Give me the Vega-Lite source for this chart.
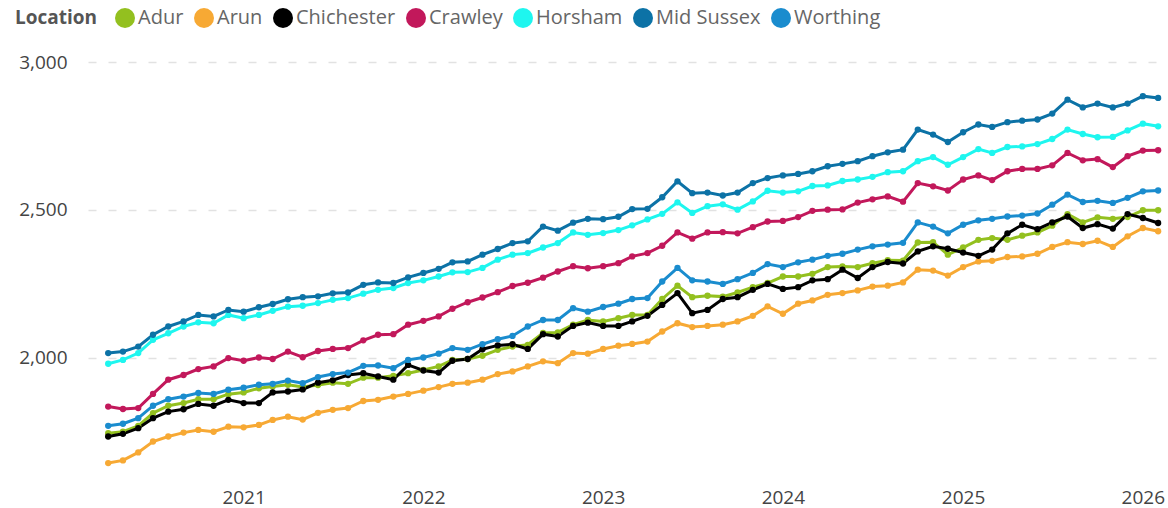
{
"$schema": "https://vega.github.io/schema/vega-lite/v6.json",
"autosize": "none",
"width": 1078,
"height": 437,
"padding": {"left": 88, "top": 45, "right": 2, "bottom": 26},
"config": {"view": {"stroke": null}, "font": "Open Sans", "background": "white"},
"data": {"values": [
{"month":"2020-04","Location":"Adur","value":1745},{"month":"2020-05","Location":"Adur","value":1750},{"month":"2020-06","Location":"Adur","value":1770},{"month":"2020-07","Location":"Adur","value":1813},{"month":"2020-08","Location":"Adur","value":1838},{"month":"2020-09","Location":"Adur","value":1847},{"month":"2020-10","Location":"Adur","value":1860},{"month":"2020-11","Location":"Adur","value":1860},{"month":"2020-12","Location":"Adur","value":1877},
{"month":"2021-01","Location":"Adur","value":1883},{"month":"2021-02","Location":"Adur","value":1897},{"month":"2021-03","Location":"Adur","value":1903},{"month":"2021-04","Location":"Adur","value":1909},{"month":"2021-05","Location":"Adur","value":1901},{"month":"2021-06","Location":"Adur","value":1908},{"month":"2021-07","Location":"Adur","value":1916},{"month":"2021-08","Location":"Adur","value":1912},{"month":"2021-09","Location":"Adur","value":1933},{"month":"2021-10","Location":"Adur","value":1933},{"month":"2021-11","Location":"Adur","value":1939},{"month":"2021-12","Location":"Adur","value":1948},
{"month":"2022-01","Location":"Adur","value":1959},{"month":"2022-02","Location":"Adur","value":1971},{"month":"2022-03","Location":"Adur","value":1993},{"month":"2022-04","Location":"Adur","value":1996},{"month":"2022-05","Location":"Adur","value":2007},{"month":"2022-06","Location":"Adur","value":2027},{"month":"2022-07","Location":"Adur","value":2038},{"month":"2022-08","Location":"Adur","value":2044},{"month":"2022-09","Location":"Adur","value":2084},{"month":"2022-10","Location":"Adur","value":2086},{"month":"2022-11","Location":"Adur","value":2112},{"month":"2022-12","Location":"Adur","value":2128},
{"month":"2023-01","Location":"Adur","value":2123},{"month":"2023-02","Location":"Adur","value":2134},{"month":"2023-03","Location":"Adur","value":2145},{"month":"2023-04","Location":"Adur","value":2145},{"month":"2023-05","Location":"Adur","value":2199},{"month":"2023-06","Location":"Adur","value":2244},{"month":"2023-07","Location":"Adur","value":2205},{"month":"2023-08","Location":"Adur","value":2210},{"month":"2023-09","Location":"Adur","value":2207},{"month":"2023-10","Location":"Adur","value":2221},{"month":"2023-11","Location":"Adur","value":2239},{"month":"2023-12","Location":"Adur","value":2253},
{"month":"2024-01","Location":"Adur","value":2275},{"month":"2024-02","Location":"Adur","value":2275},{"month":"2024-03","Location":"Adur","value":2284},{"month":"2024-04","Location":"Adur","value":2307},{"month":"2024-05","Location":"Adur","value":2309},{"month":"2024-06","Location":"Adur","value":2307},{"month":"2024-07","Location":"Adur","value":2320},{"month":"2024-08","Location":"Adur","value":2330},{"month":"2024-09","Location":"Adur","value":2329},{"month":"2024-10","Location":"Adur","value":2390},{"month":"2024-11","Location":"Adur","value":2391},{"month":"2024-12","Location":"Adur","value":2349},
{"month":"2025-01","Location":"Adur","value":2373},{"month":"2025-02","Location":"Adur","value":2399},{"month":"2025-03","Location":"Adur","value":2405},{"month":"2025-04","Location":"Adur","value":2399},{"month":"2025-05","Location":"Adur","value":2413},{"month":"2025-06","Location":"Adur","value":2424},{"month":"2025-07","Location":"Adur","value":2447},{"month":"2025-08","Location":"Adur","value":2486},{"month":"2025-09","Location":"Adur","value":2458},{"month":"2025-10","Location":"Adur","value":2475},{"month":"2025-11","Location":"Adur","value":2470},{"month":"2025-12","Location":"Adur","value":2476},
{"month":"2026-01","Location":"Adur","value":2499},{"month":"2026-02","Location":"Adur","value":2499},

{"month":"2020-04","Location":"Arun","value":1644},{"month":"2020-05","Location":"Arun","value":1653},{"month":"2020-06","Location":"Arun","value":1680},{"month":"2020-07","Location":"Arun","value":1717},{"month":"2020-08","Location":"Arun","value":1734},{"month":"2020-09","Location":"Arun","value":1747},{"month":"2020-10","Location":"Arun","value":1756},{"month":"2020-11","Location":"Arun","value":1750},{"month":"2020-12","Location":"Arun","value":1767},
{"month":"2021-01","Location":"Arun","value":1765},{"month":"2021-02","Location":"Arun","value":1773},{"month":"2021-03","Location":"Arun","value":1790},{"month":"2021-04","Location":"Arun","value":1801},{"month":"2021-05","Location":"Arun","value":1791},{"month":"2021-06","Location":"Arun","value":1814},{"month":"2021-07","Location":"Arun","value":1824},{"month":"2021-08","Location":"Arun","value":1830},{"month":"2021-09","Location":"Arun","value":1854},{"month":"2021-10","Location":"Arun","value":1858},{"month":"2021-11","Location":"Arun","value":1869},{"month":"2021-12","Location":"Arun","value":1878},
{"month":"2022-01","Location":"Arun","value":1889},{"month":"2022-02","Location":"Arun","value":1901},{"month":"2022-03","Location":"Arun","value":1912},{"month":"2022-04","Location":"Arun","value":1916},{"month":"2022-05","Location":"Arun","value":1926},{"month":"2022-06","Location":"Arun","value":1945},{"month":"2022-07","Location":"Arun","value":1954},{"month":"2022-08","Location":"Arun","value":1971},{"month":"2022-09","Location":"Arun","value":1988},{"month":"2022-10","Location":"Arun","value":1982},{"month":"2022-11","Location":"Arun","value":2016},{"month":"2022-12","Location":"Arun","value":2014},
{"month":"2023-01","Location":"Arun","value":2030},{"month":"2023-02","Location":"Arun","value":2041},{"month":"2023-03","Location":"Arun","value":2047},{"month":"2023-04","Location":"Arun","value":2055},{"month":"2023-05","Location":"Arun","value":2089},{"month":"2023-06","Location":"Arun","value":2117},{"month":"2023-07","Location":"Arun","value":2104},{"month":"2023-08","Location":"Arun","value":2108},{"month":"2023-09","Location":"Arun","value":2112},{"month":"2023-10","Location":"Arun","value":2123},{"month":"2023-11","Location":"Arun","value":2142},{"month":"2023-12","Location":"Arun","value":2174},
{"month":"2024-01","Location":"Arun","value":2149},{"month":"2024-02","Location":"Arun","value":2183},{"month":"2024-03","Location":"Arun","value":2194},{"month":"2024-04","Location":"Arun","value":2213},{"month":"2024-05","Location":"Arun","value":2219},{"month":"2024-06","Location":"Arun","value":2228},{"month":"2024-07","Location":"Arun","value":2241},{"month":"2024-08","Location":"Arun","value":2244},{"month":"2024-09","Location":"Arun","value":2255},{"month":"2024-10","Location":"Arun","value":2298},{"month":"2024-11","Location":"Arun","value":2295},{"month":"2024-12","Location":"Arun","value":2278},
{"month":"2025-01","Location":"Arun","value":2307},{"month":"2025-02","Location":"Arun","value":2326},{"month":"2025-03","Location":"Arun","value":2328},{"month":"2025-04","Location":"Arun","value":2341},{"month":"2025-05","Location":"Arun","value":2343},{"month":"2025-06","Location":"Arun","value":2352},{"month":"2025-07","Location":"Arun","value":2375},{"month":"2025-08","Location":"Arun","value":2391},{"month":"2025-09","Location":"Arun","value":2385},{"month":"2025-10","Location":"Arun","value":2396},{"month":"2025-11","Location":"Arun","value":2375},{"month":"2025-12","Location":"Arun","value":2411},
{"month":"2026-01","Location":"Arun","value":2439},{"month":"2026-02","Location":"Arun","value":2428},

{"month":"2020-04","Location":"Chichester","value":1734},{"month":"2020-05","Location":"Chichester","value":1743},{"month":"2020-06","Location":"Chichester","value":1762},{"month":"2020-07","Location":"Chichester","value":1796},{"month":"2020-08","Location":"Chichester","value":1818},{"month":"2020-09","Location":"Chichester","value":1826},{"month":"2020-10","Location":"Chichester","value":1844},{"month":"2020-11","Location":"Chichester","value":1838},{"month":"2020-12","Location":"Chichester","value":1858},
{"month":"2021-01","Location":"Chichester","value":1847},{"month":"2021-02","Location":"Chichester","value":1847},{"month":"2021-03","Location":"Chichester","value":1883},{"month":"2021-04","Location":"Chichester","value":1886},{"month":"2021-05","Location":"Chichester","value":1893},{"month":"2021-06","Location":"Chichester","value":1916},{"month":"2021-07","Location":"Chichester","value":1924},{"month":"2021-08","Location":"Chichester","value":1942},{"month":"2021-09","Location":"Chichester","value":1948},{"month":"2021-10","Location":"Chichester","value":1937},{"month":"2021-11","Location":"Chichester","value":1926},{"month":"2021-12","Location":"Chichester","value":1976},
{"month":"2022-01","Location":"Chichester","value":1957},{"month":"2022-02","Location":"Chichester","value":1950},{"month":"2022-03","Location":"Chichester","value":1990},{"month":"2022-04","Location":"Chichester","value":1996},{"month":"2022-05","Location":"Chichester","value":2029},{"month":"2022-06","Location":"Chichester","value":2042},{"month":"2022-07","Location":"Chichester","value":2046},{"month":"2022-08","Location":"Chichester","value":2030},{"month":"2022-09","Location":"Chichester","value":2080},{"month":"2022-10","Location":"Chichester","value":2072},{"month":"2022-11","Location":"Chichester","value":2108},{"month":"2022-12","Location":"Chichester","value":2119},
{"month":"2023-01","Location":"Chichester","value":2108},{"month":"2023-02","Location":"Chichester","value":2108},{"month":"2023-03","Location":"Chichester","value":2123},{"month":"2023-04","Location":"Chichester","value":2142},{"month":"2023-05","Location":"Chichester","value":2179},{"month":"2023-06","Location":"Chichester","value":2219},{"month":"2023-07","Location":"Chichester","value":2151},{"month":"2023-08","Location":"Chichester","value":2162},{"month":"2023-09","Location":"Chichester","value":2199},{"month":"2023-10","Location":"Chichester","value":2205},{"month":"2023-11","Location":"Chichester","value":2230},{"month":"2023-12","Location":"Chichester","value":2250},
{"month":"2024-01","Location":"Chichester","value":2233},{"month":"2024-02","Location":"Chichester","value":2239},{"month":"2024-03","Location":"Chichester","value":2262},{"month":"2024-04","Location":"Chichester","value":2266},{"month":"2024-05","Location":"Chichester","value":2298},{"month":"2024-06","Location":"Chichester","value":2270},{"month":"2024-07","Location":"Chichester","value":2307},{"month":"2024-08","Location":"Chichester","value":2324},{"month":"2024-09","Location":"Chichester","value":2319},{"month":"2024-10","Location":"Chichester","value":2360},{"month":"2024-11","Location":"Chichester","value":2377},{"month":"2024-12","Location":"Chichester","value":2369},
{"month":"2025-01","Location":"Chichester","value":2356},{"month":"2025-02","Location":"Chichester","value":2345},{"month":"2025-03","Location":"Chichester","value":2366},{"month":"2025-04","Location":"Chichester","value":2421},{"month":"2025-05","Location":"Chichester","value":2450},{"month":"2025-06","Location":"Chichester","value":2435},{"month":"2025-07","Location":"Chichester","value":2458},{"month":"2025-08","Location":"Chichester","value":2478},{"month":"2025-09","Location":"Chichester","value":2439},{"month":"2025-10","Location":"Chichester","value":2452},{"month":"2025-11","Location":"Chichester","value":2437},{"month":"2025-12","Location":"Chichester","value":2486},
{"month":"2026-01","Location":"Chichester","value":2473},{"month":"2026-02","Location":"Chichester","value":2456},

{"month":"2020-04","Location":"Crawley","value":1835},{"month":"2020-05","Location":"Crawley","value":1827},{"month":"2020-06","Location":"Crawley","value":1830},{"month":"2020-07","Location":"Crawley","value":1878},{"month":"2020-08","Location":"Crawley","value":1926},{"month":"2020-09","Location":"Crawley","value":1942},{"month":"2020-10","Location":"Crawley","value":1962},{"month":"2020-11","Location":"Crawley","value":1971},{"month":"2020-12","Location":"Crawley","value":1999},
{"month":"2021-01","Location":"Crawley","value":1990},{"month":"2021-02","Location":"Crawley","value":2001},{"month":"2021-03","Location":"Crawley","value":1996},{"month":"2021-04","Location":"Crawley","value":2021},{"month":"2021-05","Location":"Crawley","value":2002},{"month":"2021-06","Location":"Crawley","value":2023},{"month":"2021-07","Location":"Crawley","value":2030},{"month":"2021-08","Location":"Crawley","value":2033},{"month":"2021-09","Location":"Crawley","value":2059},{"month":"2021-10","Location":"Crawley","value":2078},{"month":"2021-11","Location":"Crawley","value":2080},{"month":"2021-12","Location":"Crawley","value":2112},
{"month":"2022-01","Location":"Crawley","value":2125},{"month":"2022-02","Location":"Crawley","value":2140},{"month":"2022-03","Location":"Crawley","value":2166},{"month":"2022-04","Location":"Crawley","value":2188},{"month":"2022-05","Location":"Crawley","value":2204},{"month":"2022-06","Location":"Crawley","value":2222},{"month":"2022-07","Location":"Crawley","value":2243},{"month":"2022-08","Location":"Crawley","value":2254},{"month":"2022-09","Location":"Crawley","value":2271},{"month":"2022-10","Location":"Crawley","value":2292},{"month":"2022-11","Location":"Crawley","value":2310},{"month":"2022-12","Location":"Crawley","value":2303},
{"month":"2023-01","Location":"Crawley","value":2310},{"month":"2023-02","Location":"Crawley","value":2320},{"month":"2023-03","Location":"Crawley","value":2343},{"month":"2023-04","Location":"Crawley","value":2354},{"month":"2023-05","Location":"Crawley","value":2379},{"month":"2023-06","Location":"Crawley","value":2424},{"month":"2023-07","Location":"Crawley","value":2403},{"month":"2023-08","Location":"Crawley","value":2424},{"month":"2023-09","Location":"Crawley","value":2425},{"month":"2023-10","Location":"Crawley","value":2421},{"month":"2023-11","Location":"Crawley","value":2442},{"month":"2023-12","Location":"Crawley","value":2461},
{"month":"2024-01","Location":"Crawley","value":2463},{"month":"2024-02","Location":"Crawley","value":2476},{"month":"2024-03","Location":"Crawley","value":2497},{"month":"2024-04","Location":"Crawley","value":2501},{"month":"2024-05","Location":"Crawley","value":2502},{"month":"2024-06","Location":"Crawley","value":2525},{"month":"2024-07","Location":"Crawley","value":2536},{"month":"2024-08","Location":"Crawley","value":2546},{"month":"2024-09","Location":"Crawley","value":2528},{"month":"2024-10","Location":"Crawley","value":2591},{"month":"2024-11","Location":"Crawley","value":2580},{"month":"2024-12","Location":"Crawley","value":2566},
{"month":"2025-01","Location":"Crawley","value":2603},{"month":"2025-02","Location":"Crawley","value":2617},{"month":"2025-03","Location":"Crawley","value":2601},{"month":"2025-04","Location":"Crawley","value":2631},{"month":"2025-05","Location":"Crawley","value":2639},{"month":"2025-06","Location":"Crawley","value":2639},{"month":"2025-07","Location":"Crawley","value":2651},{"month":"2025-08","Location":"Crawley","value":2693},{"month":"2025-09","Location":"Crawley","value":2668},{"month":"2025-10","Location":"Crawley","value":2672},{"month":"2025-11","Location":"Crawley","value":2645},{"month":"2025-12","Location":"Crawley","value":2682},
{"month":"2026-01","Location":"Crawley","value":2701},{"month":"2026-02","Location":"Crawley","value":2702},

{"month":"2020-04","Location":"Horsham","value":1980},{"month":"2020-05","Location":"Horsham","value":1993},{"month":"2020-06","Location":"Horsham","value":2016},{"month":"2020-07","Location":"Horsham","value":2061},{"month":"2020-08","Location":"Horsham","value":2083},{"month":"2020-09","Location":"Horsham","value":2106},{"month":"2020-10","Location":"Horsham","value":2120},{"month":"2020-11","Location":"Horsham","value":2117},{"month":"2020-12","Location":"Horsham","value":2145},
{"month":"2021-01","Location":"Horsham","value":2134},{"month":"2021-02","Location":"Horsham","value":2145},{"month":"2021-03","Location":"Horsham","value":2159},{"month":"2021-04","Location":"Horsham","value":2173},{"month":"2021-05","Location":"Horsham","value":2176},{"month":"2021-06","Location":"Horsham","value":2185},{"month":"2021-07","Location":"Horsham","value":2196},{"month":"2021-08","Location":"Horsham","value":2202},{"month":"2021-09","Location":"Horsham","value":2217},{"month":"2021-10","Location":"Horsham","value":2230},{"month":"2021-11","Location":"Horsham","value":2236},{"month":"2021-12","Location":"Horsham","value":2253},
{"month":"2022-01","Location":"Horsham","value":2262},{"month":"2022-02","Location":"Horsham","value":2275},{"month":"2022-03","Location":"Horsham","value":2289},{"month":"2022-04","Location":"Horsham","value":2290},{"month":"2022-05","Location":"Horsham","value":2304},{"month":"2022-06","Location":"Horsham","value":2332},{"month":"2022-07","Location":"Horsham","value":2349},{"month":"2022-08","Location":"Horsham","value":2354},{"month":"2022-09","Location":"Horsham","value":2373},{"month":"2022-10","Location":"Horsham","value":2388},{"month":"2022-11","Location":"Horsham","value":2424},{"month":"2022-12","Location":"Horsham","value":2416},
{"month":"2023-01","Location":"Horsham","value":2422},{"month":"2023-02","Location":"Horsham","value":2432},{"month":"2023-03","Location":"Horsham","value":2448},{"month":"2023-04","Location":"Horsham","value":2468},{"month":"2023-05","Location":"Horsham","value":2487},{"month":"2023-06","Location":"Horsham","value":2526},{"month":"2023-07","Location":"Horsham","value":2490},{"month":"2023-08","Location":"Horsham","value":2513},{"month":"2023-09","Location":"Horsham","value":2519},{"month":"2023-10","Location":"Horsham","value":2501},{"month":"2023-11","Location":"Horsham","value":2529},{"month":"2023-12","Location":"Horsham","value":2565},
{"month":"2024-01","Location":"Horsham","value":2559},{"month":"2024-02","Location":"Horsham","value":2563},{"month":"2024-03","Location":"Horsham","value":2581},{"month":"2024-04","Location":"Horsham","value":2583},{"month":"2024-05","Location":"Horsham","value":2598},{"month":"2024-06","Location":"Horsham","value":2603},{"month":"2024-07","Location":"Horsham","value":2612},{"month":"2024-08","Location":"Horsham","value":2628},{"month":"2024-09","Location":"Horsham","value":2631},{"month":"2024-10","Location":"Horsham","value":2665},{"month":"2024-11","Location":"Horsham","value":2679},{"month":"2024-12","Location":"Horsham","value":2653},
{"month":"2025-01","Location":"Horsham","value":2679},{"month":"2025-02","Location":"Horsham","value":2706},{"month":"2025-03","Location":"Horsham","value":2693},{"month":"2025-04","Location":"Horsham","value":2713},{"month":"2025-05","Location":"Horsham","value":2715},{"month":"2025-06","Location":"Horsham","value":2723},{"month":"2025-07","Location":"Horsham","value":2740},{"month":"2025-08","Location":"Horsham","value":2772},{"month":"2025-09","Location":"Horsham","value":2757},{"month":"2025-10","Location":"Horsham","value":2746},{"month":"2025-11","Location":"Horsham","value":2747},{"month":"2025-12","Location":"Horsham","value":2769},
{"month":"2026-01","Location":"Horsham","value":2792},{"month":"2026-02","Location":"Horsham","value":2783},

{"month":"2020-04","Location":"Mid Sussex","value":2016},{"month":"2020-05","Location":"Mid Sussex","value":2021},{"month":"2020-06","Location":"Mid Sussex","value":2038},{"month":"2020-07","Location":"Mid Sussex","value":2078},{"month":"2020-08","Location":"Mid Sussex","value":2106},{"month":"2020-09","Location":"Mid Sussex","value":2123},{"month":"2020-10","Location":"Mid Sussex","value":2145},{"month":"2020-11","Location":"Mid Sussex","value":2140},{"month":"2020-12","Location":"Mid Sussex","value":2162},
{"month":"2021-01","Location":"Mid Sussex","value":2156},{"month":"2021-02","Location":"Mid Sussex","value":2171},{"month":"2021-03","Location":"Mid Sussex","value":2182},{"month":"2021-04","Location":"Mid Sussex","value":2198},{"month":"2021-05","Location":"Mid Sussex","value":2205},{"month":"2021-06","Location":"Mid Sussex","value":2208},{"month":"2021-07","Location":"Mid Sussex","value":2218},{"month":"2021-08","Location":"Mid Sussex","value":2221},{"month":"2021-09","Location":"Mid Sussex","value":2247},{"month":"2021-10","Location":"Mid Sussex","value":2255},{"month":"2021-11","Location":"Mid Sussex","value":2253},{"month":"2021-12","Location":"Mid Sussex","value":2272},
{"month":"2022-01","Location":"Mid Sussex","value":2287},{"month":"2022-02","Location":"Mid Sussex","value":2301},{"month":"2022-03","Location":"Mid Sussex","value":2323},{"month":"2022-04","Location":"Mid Sussex","value":2326},{"month":"2022-05","Location":"Mid Sussex","value":2349},{"month":"2022-06","Location":"Mid Sussex","value":2368},{"month":"2022-07","Location":"Mid Sussex","value":2388},{"month":"2022-08","Location":"Mid Sussex","value":2394},{"month":"2022-09","Location":"Mid Sussex","value":2444},{"month":"2022-10","Location":"Mid Sussex","value":2430},{"month":"2022-11","Location":"Mid Sussex","value":2457},{"month":"2022-12","Location":"Mid Sussex","value":2470},
{"month":"2023-01","Location":"Mid Sussex","value":2469},{"month":"2023-02","Location":"Mid Sussex","value":2477},{"month":"2023-03","Location":"Mid Sussex","value":2503},{"month":"2023-04","Location":"Mid Sussex","value":2504},{"month":"2023-05","Location":"Mid Sussex","value":2543},{"month":"2023-06","Location":"Mid Sussex","value":2597},{"month":"2023-07","Location":"Mid Sussex","value":2557},{"month":"2023-08","Location":"Mid Sussex","value":2559},{"month":"2023-09","Location":"Mid Sussex","value":2549},{"month":"2023-10","Location":"Mid Sussex","value":2559},{"month":"2023-11","Location":"Mid Sussex","value":2591},{"month":"2023-12","Location":"Mid Sussex","value":2608},
{"month":"2024-01","Location":"Mid Sussex","value":2617},{"month":"2024-02","Location":"Mid Sussex","value":2622},{"month":"2024-03","Location":"Mid Sussex","value":2631},{"month":"2024-04","Location":"Mid Sussex","value":2648},{"month":"2024-05","Location":"Mid Sussex","value":2656},{"month":"2024-06","Location":"Mid Sussex","value":2665},{"month":"2024-07","Location":"Mid Sussex","value":2682},{"month":"2024-08","Location":"Mid Sussex","value":2695},{"month":"2024-09","Location":"Mid Sussex","value":2704},{"month":"2024-10","Location":"Mid Sussex","value":2772},{"month":"2024-11","Location":"Mid Sussex","value":2755},{"month":"2024-12","Location":"Mid Sussex","value":2730},
{"month":"2025-01","Location":"Mid Sussex","value":2763},{"month":"2025-02","Location":"Mid Sussex","value":2789},{"month":"2025-03","Location":"Mid Sussex","value":2781},{"month":"2025-04","Location":"Mid Sussex","value":2797},{"month":"2025-05","Location":"Mid Sussex","value":2802},{"month":"2025-06","Location":"Mid Sussex","value":2806},{"month":"2025-07","Location":"Mid Sussex","value":2826},{"month":"2025-08","Location":"Mid Sussex","value":2873},{"month":"2025-09","Location":"Mid Sussex","value":2847},{"month":"2025-10","Location":"Mid Sussex","value":2860},{"month":"2025-11","Location":"Mid Sussex","value":2847},{"month":"2025-12","Location":"Mid Sussex","value":2860},
{"month":"2026-01","Location":"Mid Sussex","value":2885},{"month":"2026-02","Location":"Mid Sussex","value":2879},

{"month":"2020-04","Location":"Worthing","value":1770},{"month":"2020-05","Location":"Worthing","value":1777},{"month":"2020-06","Location":"Worthing","value":1796},{"month":"2020-07","Location":"Worthing","value":1838},{"month":"2020-08","Location":"Worthing","value":1860},{"month":"2020-09","Location":"Worthing","value":1869},{"month":"2020-10","Location":"Worthing","value":1881},{"month":"2020-11","Location":"Worthing","value":1878},{"month":"2020-12","Location":"Worthing","value":1892},
{"month":"2021-01","Location":"Worthing","value":1899},{"month":"2021-02","Location":"Worthing","value":1909},{"month":"2021-03","Location":"Worthing","value":1912},{"month":"2021-04","Location":"Worthing","value":1923},{"month":"2021-05","Location":"Worthing","value":1914},{"month":"2021-06","Location":"Worthing","value":1935},{"month":"2021-07","Location":"Worthing","value":1945},{"month":"2021-08","Location":"Worthing","value":1950},{"month":"2021-09","Location":"Worthing","value":1973},{"month":"2021-10","Location":"Worthing","value":1974},{"month":"2021-11","Location":"Worthing","value":1965},{"month":"2021-12","Location":"Worthing","value":1993},
{"month":"2022-01","Location":"Worthing","value":2001},{"month":"2022-02","Location":"Worthing","value":2014},{"month":"2022-03","Location":"Worthing","value":2033},{"month":"2022-04","Location":"Worthing","value":2027},{"month":"2022-05","Location":"Worthing","value":2046},{"month":"2022-06","Location":"Worthing","value":2063},{"month":"2022-07","Location":"Worthing","value":2074},{"month":"2022-08","Location":"Worthing","value":2106},{"month":"2022-09","Location":"Worthing","value":2128},{"month":"2022-10","Location":"Worthing","value":2128},{"month":"2022-11","Location":"Worthing","value":2168},{"month":"2022-12","Location":"Worthing","value":2156},
{"month":"2023-01","Location":"Worthing","value":2172},{"month":"2023-02","Location":"Worthing","value":2183},{"month":"2023-03","Location":"Worthing","value":2199},{"month":"2023-04","Location":"Worthing","value":2202},{"month":"2023-05","Location":"Worthing","value":2258},{"month":"2023-06","Location":"Worthing","value":2304},{"month":"2023-07","Location":"Worthing","value":2262},{"month":"2023-08","Location":"Worthing","value":2258},{"month":"2023-09","Location":"Worthing","value":2250},{"month":"2023-10","Location":"Worthing","value":2266},{"month":"2023-11","Location":"Worthing","value":2287},{"month":"2023-12","Location":"Worthing","value":2317},
{"month":"2024-01","Location":"Worthing","value":2307},{"month":"2024-02","Location":"Worthing","value":2323},{"month":"2024-03","Location":"Worthing","value":2332},{"month":"2024-04","Location":"Worthing","value":2345},{"month":"2024-05","Location":"Worthing","value":2352},{"month":"2024-06","Location":"Worthing","value":2366},{"month":"2024-07","Location":"Worthing","value":2377},{"month":"2024-08","Location":"Worthing","value":2383},{"month":"2024-09","Location":"Worthing","value":2389},{"month":"2024-10","Location":"Worthing","value":2458},{"month":"2024-11","Location":"Worthing","value":2444},{"month":"2024-12","Location":"Worthing","value":2421},
{"month":"2025-01","Location":"Worthing","value":2450},{"month":"2025-02","Location":"Worthing","value":2465},{"month":"2025-03","Location":"Worthing","value":2470},{"month":"2025-04","Location":"Worthing","value":2478},{"month":"2025-05","Location":"Worthing","value":2481},{"month":"2025-06","Location":"Worthing","value":2488},{"month":"2025-07","Location":"Worthing","value":2518},{"month":"2025-08","Location":"Worthing","value":2552},{"month":"2025-09","Location":"Worthing","value":2527},{"month":"2025-10","Location":"Worthing","value":2531},{"month":"2025-11","Location":"Worthing","value":2524},{"month":"2025-12","Location":"Worthing","value":2541},
{"month":"2026-01","Location":"Worthing","value":2563},{"month":"2026-02","Location":"Worthing","value":2566}
]},
"mark": {"type": "line", "strokeWidth": 3, "point": {"filled": true, "size": 40, "opacity": 1}},
"encoding": {
  "x": {"field": "month", "type": "temporal",
        "scale": {"type": "utc", "domain": [{"year": 2020, "month": 2, "date": 20, "utc": true}, {"year": 2026, "month": 2, "date": 17, "utc": true}]},
        "axis": {"title": null, "format": "%Y", "labelFontSize": 19, "labelColor": "#444444", "domain": false, "ticks": false, "grid": false, "labelPadding": 6, "labelFlush": false, "labelOverlap": false,
                 "values": [{"year": 2021, "month": 1, "date": 1, "utc": true}, {"year": 2022, "month": 1, "date": 1, "utc": true}, {"year": 2023, "month": 1, "date": 1, "utc": true}, {"year": 2024, "month": 1, "date": 1, "utc": true}, {"year": 2025, "month": 1, "date": 1, "utc": true}, {"year": 2026, "month": 1, "date": 1, "utc": true}]}},
  "y": {"field": "value", "type": "quantitative",
        "scale": {"domain": [1580, 3058], "nice": false, "zero": false},
        "axis": {"title": null, "values": [2000, 2500, 3000], "format": ",.0f", "labelFontSize": 19, "labelColor": "#444444", "domain": false, "ticks": false, "labelPadding": 21, "grid": true, "gridDash": [8, 12], "gridColor": "#E2E2E2", "gridWidth": 1.5}},
  "color": {"field": "Location", "type": "nominal",
        "scale": {"domain": ["Adur", "Arun", "Chichester", "Crawley", "Horsham", "Mid Sussex", "Worthing"],
                  "range": ["#93C01F", "#F7A934", "#000000", "#C2185B", "#1EF6EF", "#0C72A6", "#1A8CCE"]},
        "legend": {"orient": "none", "legendX": -73, "legendY": -37, "direction": "horizontal", "columns": 7,
                   "title": "Location", "titleOrient": "left", "titleFontSize": 19, "titleFontWeight": "bold", "titleColor": "#555555", "titlePadding": 17,
                   "labelFontSize": 20, "labelColor": "#666666", "symbolType": "circle", "symbolSize": 400, "symbolStrokeWidth": 0, "labelOffset": 3, "columnPadding": 10,
                   "encode": {"symbols": {"update": {"fill": {"scale": "color", "field": "value"}, "fillOpacity": {"value": 1}, "strokeWidth": {"value": 0}}}}}}
}
}
